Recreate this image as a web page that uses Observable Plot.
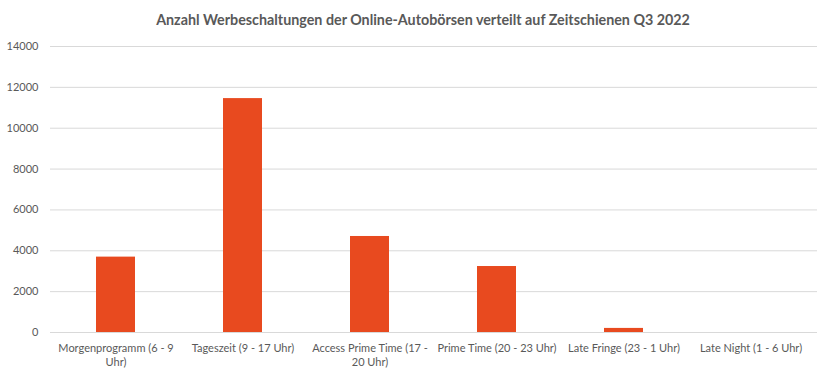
<!DOCTYPE html>
<html>
<head>
<meta charset="utf-8">
<script src="https://cdn.jsdelivr.net/npm/d3@7"></script>
<script src="https://cdn.jsdelivr.net/npm/@observablehq/plot@0.6"></script>
<style>
  html, body { margin: 0; padding: 0; background: #fff; }
  body { width: 832px; height: 379px; overflow: hidden; font-family: Lato, "Open Sans", sans-serif; }
  #title { height: 36px; line-height: 40px; text-align: center; font-weight: bold; font-size: 14.3px; color: #595959; padding-left: 14px; }
</style>
</head>
<body>
<div id="title">Anzahl Werbeschaltungen der Online-Autobörsen verteilt auf Zeitschienen Q3 2022</div>
<div id="chart"></div>
<script>
const categories = [
  "Morgenprogramm (6 - 9 Uhr)",
  "Tageszeit (9 - 17 Uhr)",
  "Access Prime Time (17 - 20 Uhr)",
  "Prime Time (20 - 23 Uhr)",
  "Late Fringe (23 - 1 Uhr)",
  "Late Night (1 - 6 Uhr)"
];
const tickLabels = [
  "Morgenprogramm (6 - 9\nUhr)",
  "Tageszeit (9 - 17 Uhr)",
  "Access Prime Time (17 -\n20 Uhr)",
  "Prime Time (20 - 23 Uhr)",
  "Late Fringe (23 - 1 Uhr)",
  "Late Night (1 - 6 Uhr)"
];
const values = [3690, 11450, 4700, 3230, 200, 0];
const yTicks = [0, 2000, 4000, 6000, 8000, 10000, 12000, 14000];

const data = categories.map((c, i) => ({category: c, value: values[i]}));
const labelOf = new Map(categories.map((c, i) => [c, tickLabels[i]]));

const plot = Plot.plot({
  width: 832,
  height: 343,
  marginLeft: 50,
  marginRight: 15,
  marginTop: 10,
  marginBottom: 47,
  style: {fontFamily: "Lato, 'Open Sans', sans-serif", fontSize: "11px", color: "#595959", background: "#fff"},
  x: {domain: categories, paddingInner: 0.69, paddingOuter: 0.345, label: null},
  y: {domain: [0, 14000], label: null},
  marks: [
    Plot.gridY(yTicks, {stroke: "#d9d9d9", strokeOpacity: 1}),
    Plot.ruleY([0], {stroke: "#d9d9d9"}),
    Plot.barY(data, {x: "category", y: "value", fill: "#e84a1f"}),
    Plot.axisY(yTicks, {tickSize: 0, tickPadding: 12, tickFormat: d => String(d), fill: "#595959", fontSize: 11}),
    Plot.axisX({tickSize: 0, tickPadding: 10, tickFormat: d => labelOf.get(d), fill: "#595959", fontSize: 11, lineHeight: 1.25})
  ]
});
document.getElementById("chart").appendChild(plot);
</script>
</body>
</html>
